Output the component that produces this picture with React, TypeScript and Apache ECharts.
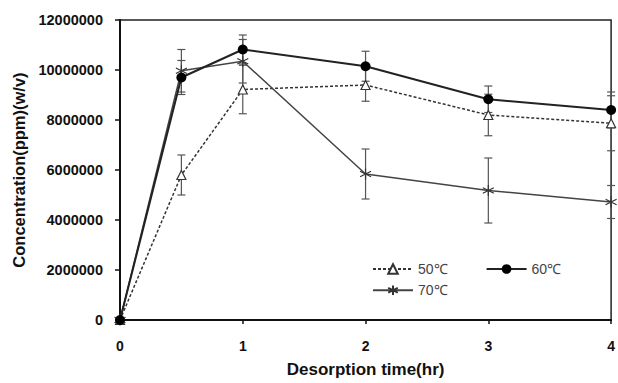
import React, { useEffect, useRef } from "react";
import * as echarts from "echarts";

const times = [0, 0.5, 1, 2, 3, 4];
const c50 = [0, 5800000, 9220000, 9400000, 8200000, 7870000];
const e50 = [0, 800000, 970000, 650000, 830000, 1100000];
const c60 = [0, 9700000, 10820000, 10150000, 8830000, 8400000];
const e60 = [0, 680000, 580000, 600000, 530000, 720000];
const c70 = [0, 9970000, 10350000, 5840000, 5180000, 4720000];
const e70 = [0, 850000, 870000, 1000000, 1300000, 660000];
const names = ["50℃", "60℃", "70℃"];
const yTicks = [0, 2000000, 4000000, 6000000, 8000000, 10000000, 12000000];
const xTicks = [0, 1, 2, 3, 4];

const STAR = "path://M0,-10L0,10M-8.7,-5L8.7,5M-8.7,5L8.7,-5";

function errSeries(vals: number[], errs: number[], color: string) {
  return {
    type: "custom",
    silent: true,
    z: 1,
    renderItem: (params: any, api: any) => {
      const x = api.value(0);
      const y = api.value(1);
      const e = api.value(2);
      if (!e) return null;
      const t = api.coord([x, y + e]);
      const b = api.coord([x, y - e]);
      const w = 4;
      const style = { stroke: color, lineWidth: 1.2 };
      return {
        type: "group",
        children: [
          { type: "line", shape: { x1: t[0], y1: t[1], x2: b[0], y2: b[1] }, style },
          { type: "line", shape: { x1: t[0] - w, y1: t[1], x2: t[0] + w, y2: t[1] }, style },
          { type: "line", shape: { x1: b[0] - w, y1: b[1], x2: b[0] + w, y2: b[1] }, style },
        ],
      };
    },
    data: times.map((t, i) => [t, vals[i], errs[i]]),
  };
}

export default function App() {
  const ref = useRef<HTMLDivElement>(null);
  useEffect(() => {
    const chart = echarts.init(ref.current!, undefined, { renderer: "svg" });
    const font = "'Liberation Sans', Arial, sans-serif";
    chart.setOption({
      animation: false,
      backgroundColor: "#fff",
      grid: { left: 120, right: 5, top: 20, bottom: 58, show: true, borderColor: "#222", borderWidth: 1.5 },
      legend: [
        {
          data: [names[0], names[1]],
          left: 372,
          top: 262,
          padding: 0,
          itemWidth: 40,
          itemHeight: 12,
          itemGap: 38,
          textStyle: { fontFamily: font, fontSize: 14, color: "#444" },
        },
        {
          data: [names[2]],
          left: 372,
          top: 283,
          padding: 0,
          itemWidth: 40,
          itemHeight: 12,
          textStyle: { fontFamily: font, fontSize: 14, color: "#444" },
        },
      ],
      xAxis: {
        type: "value",
        min: xTicks[0],
        max: xTicks[xTicks.length - 1],
        interval: 1,
        name: "Desorption time(hr)",
        nameLocation: "middle",
        nameGap: 41,
        nameTextStyle: { fontFamily: font, fontSize: 17, fontWeight: "bold", color: "#111" },
        axisLine: { lineStyle: { color: "#111", width: 2 } },
        axisTick: { inside: false, length: 4, lineStyle: { color: "#111", width: 1.5 } },
        axisLabel: { fontFamily: font, fontSize: 14, fontWeight: "bold", color: "#111", margin: 19 },
        splitLine: { show: false },
      },
      yAxis: {
        type: "value",
        min: yTicks[0],
        max: yTicks[yTicks.length - 1],
        interval: 2000000,
        name: "Concentration(ppm)(w/v)",
        nameLocation: "middle",
        nameGap: 88,
        nameTextStyle: { fontFamily: font, fontSize: 16.5, fontWeight: "bold", color: "#111" },
        axisLine: { show: true, lineStyle: { color: "#111", width: 2 } },
        axisTick: { show: true, inside: false, length: 5, lineStyle: { color: "#111", width: 1.5 } },
        axisLabel: {
          fontFamily: font,
          fontSize: 14.5,
          fontWeight: "bold",
          color: "#111",
          margin: 17,
          formatter: (v: number) => String(v),
        },
        splitLine: { show: false },
      },
      series: [
        errSeries(c50, e50, "#555"),
        errSeries(c60, e60, "#555"),
        errSeries(c70, e70, "#555"),
        {
          name: names[0],
          type: "line",
          z: 3,
          data: times.map((t, i) => [t, c50[i]]),
          symbol: "triangle",
          symbolSize: 9,
          lineStyle: { color: "#333", width: 1.5, type: [3, 2] },
          itemStyle: { color: "#fff", borderColor: "#333", borderWidth: 1.2 },
        },
        {
          name: names[1],
          type: "line",
          z: 4,
          data: times.map((t, i) => [t, c60[i]]),
          symbol: "circle",
          symbolSize: 10,
          lineStyle: { color: "#222", width: 2 },
          itemStyle: { color: "#000", borderColor: "#000", borderWidth: 0 },
        },
        {
          name: names[2],
          type: "line",
          z: 3,
          data: times.map((t, i) => [t, c70[i]]),
          symbol: STAR,
          symbolSize: 11,
          lineStyle: { color: "#444", width: 1.5 },
          itemStyle: { color: "none", borderColor: "#333", borderWidth: 1.2 },
        },
      ],
    });
    return () => chart.dispose();
  }, []);
  return <div ref={ref} style={{ width: 618, height: 383, position: "absolute", left: 0, top: 0 }} />;
}
